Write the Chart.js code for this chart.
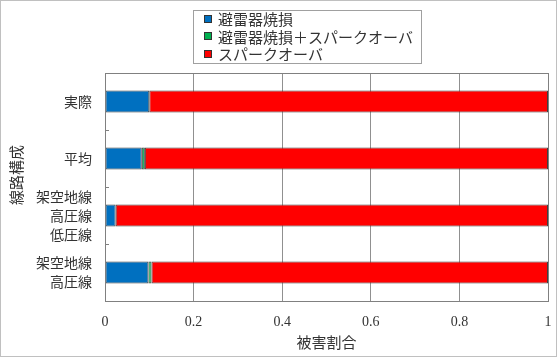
<!DOCTYPE html>
<html><head><meta charset="utf-8">
<script src="https://cdn.jsdelivr.net/npm/chart.js@4/dist/chart.umd.min.js"></script>
<style>html,body{margin:0;padding:0;background:#fff}#wrap{width:560px;height:358px;position:relative}</style>
</head><body><div id="wrap"><canvas id="c" width="560" height="358"></canvas></div>
<script>
const categories = [["実際"], ["平均"], ["架空地線", "高圧線", "低圧線"], ["架空地線", "高圧線"]];
const seriesNames = ["避雷器焼損", "避雷器焼損＋スパークオーバ", "スパークオーバ"];
const arresterDamage = [0.100, 0.083, 0.024, 0.098];
const arresterAndFlashover = [0.000, 0.007, 0.000, 0.007];
const flashover = [0.900, 0.910, 0.976, 0.895];
const xTicks = [0, 0.2, 0.4, 0.6, 0.8, 1];
const yTitle = "線路構成";
const xTitle = "被害割合";
const colors = ["#0070C0", "#00B050", "#FF0000"];

const CJK = "'Noto Sans CJK JP', 'Noto Sans', sans-serif";
const SERIF = "'Liberation Serif', 'DejaVu Serif', serif";

const framePlugin = {
  id: 'frame',
  beforeDraw(chart) {
    const ctx = chart.ctx;
    ctx.save();
    ctx.fillStyle = '#fff';
    ctx.fillRect(0, 0, chart.width, chart.height);
    ctx.restore();
  },
  afterDraw(chart) {
    const ctx = chart.ctx, a = chart.chartArea;
    ctx.save();
    ctx.strokeStyle = '#808080';
    ctx.lineWidth = 1;
    ctx.strokeRect(Math.round(a.left) + 0.5, Math.round(a.top) + 0.5, Math.round(a.right - a.left), Math.round(a.bottom - a.top));
    const ys = chart.scales.y;
    for (let i = 1; i < categories.length; i++) {
      const p = Math.round((ys.getPixelForValue(i - 1) + ys.getPixelForValue(i)) / 2) + 0.5;
      ctx.beginPath();
      ctx.moveTo(a.left, p);
      ctx.lineTo(a.left + 4, p);
      ctx.stroke();
    }
    // y axis title
    ctx.save();
    ctx.font = "15px " + CJK;
    ctx.fillStyle = '#333';
    ctx.textAlign = 'center';
    ctx.textBaseline = 'middle';
    ctx.translate(16, (a.top + a.bottom) / 2 - 12);
    ctx.rotate(-Math.PI / 2);
    ctx.fillText(yTitle, 0, 0);
    ctx.restore();
    // outer frame
    ctx.strokeStyle = '#c0c0c0';
    ctx.strokeRect(0.5, 0.5, 556, 356);
    // legend
    ctx.font = "15px " + CJK;
    const left = 193, top = 10, rowH = 17.5, textX = 218;
    let maxW = 0;
    seriesNames.forEach(n => { maxW = Math.max(maxW, ctx.measureText(n).width); });
    ctx.fillStyle = '#fff';
    ctx.fillRect(left, top, textX - left + maxW + 8, 54);
    ctx.strokeStyle = '#a0a0a0';
    ctx.strokeRect(left + 0.5, top + 0.5, Math.round(textX - left + maxW + 8), 53);
    ctx.textBaseline = 'middle';
    seriesNames.forEach((n, i) => {
      const cy = top + 8.5 + i * rowH;
      ctx.fillStyle = colors[i];
      ctx.fillRect(204, Math.round(cy) - 4, 8, 8);
      ctx.strokeStyle = '#333';
      ctx.strokeRect(204.5, Math.round(cy) - 3.5, 7, 7);
      ctx.fillStyle = '#333';
      ctx.fillText(n, textX, cy + 1);
    });
    ctx.restore();
  }
};

const data = {
  labels: categories,
  datasets: [arresterDamage, arresterAndFlashover, flashover].map((vals, i) => ({
    label: seriesNames[i],
    data: vals,
    backgroundColor: colors[i],
    borderColor: '#404040',
    borderWidth: 1,
    borderSkipped: false,
    categoryPercentage: 1,
    barPercentage: 0.39
  }))
};

new Chart(document.getElementById('c'), {
  type: 'bar',
  data,
  options: {
    indexAxis: 'y',
    responsive: false,
    animation: false,
    layout: { padding: { top: 73, right: 12, left: 0, bottom: 7 } },
    plugins: { legend: { display: false }, tooltip: { enabled: false } },
    scales: {
      x: {
        stacked: true,
        min: 0, max: 1,
        afterBuildTicks: s => { s.ticks = xTicks.map(v => ({ value: v })); },
        afterFit: s => { s.height = 50; s.paddingRight = 0; s.paddingLeft = 0; },
        grid: { color: '#909090', drawTicks: false, drawOnChartArea: true },
        border: { display: false },
        ticks: { padding: 13, color: '#333', font: { family: SERIF, size: 14 }, callback: v => String(v), maxRotation: 0, autoSkip: false },
        title: { display: true, text: xTitle, color: '#333', font: { family: CJK, size: 15 }, padding: { top: 0, bottom: 0 } }
      },
      y: {
        stacked: true,
        afterFit: s => { s.width = 105; s.paddingTop = 0; s.paddingBottom = 0; },
        grid: { display: false, drawTicks: false },
        border: { display: false },
        ticks: { padding: 13, autoSkip: false, color: '#333', font: { family: CJK, size: 14, lineHeight: 1.35 } }
      }
    }
  },
  plugins: [framePlugin]
});
</script></body></html>
